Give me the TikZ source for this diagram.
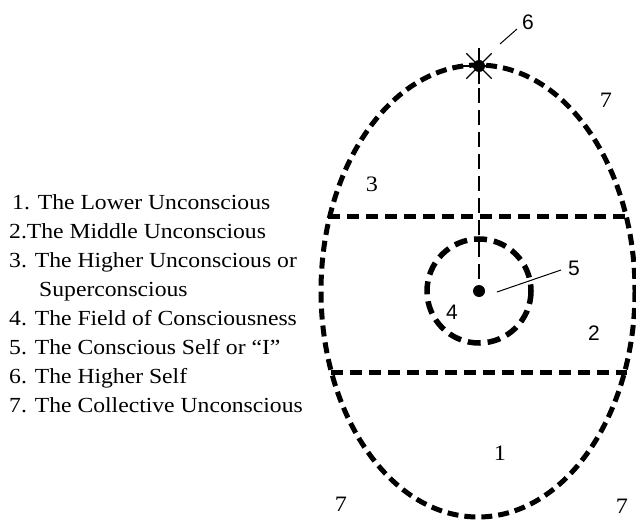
\documentclass[tikz,border=0pt]{standalone}
\usepackage{fontspec}
\setmainfont[FakeStretch=1.1]{Liberation Serif}
\newfontfamily\labsans{Liberation Sans}
\begin{document}
\begin{tikzpicture}[x=1pt,y=-1pt,
  eggline/.style={line width=5pt,dash pattern=on 11pt off 6pt},
  bandline/.style={line width=5pt,dash pattern=on 12pt off 7pt},
  fieldline/.style={line width=5.5pt,dash pattern=on 13pt off 7pt},
  thinline/.style={line width=1.3pt},
  listtext/.style={anchor=base west,inner sep=0pt,font=\fontsize{21.5}{29}\selectfont},
  numlab/.style={inner sep=0pt,font=\fontsize{22}{24}\selectfont},
  sanslab/.style={inner sep=0pt,font=\labsans\fontsize{21}{24}\selectfont}]
\useasboundingbox (0,0) rectangle (636,521);
\fill[white] (0,0) rectangle (636,521);
% egg
\draw[eggline] (478,291) ellipse [x radius=157, y radius=226];
% bands
\coordinate (b1l) at (328,216); \coordinate (b1r) at (629,216);
\coordinate (b2l) at (331,372); \coordinate (b2r) at (627,372);
\draw[bandline] (b1l) -- (b1r);
\draw[bandline] (b2l) -- (b2r);
% field of consciousness
\coordinate (self) at (479,291);
\draw[fieldline] (self) circle [radius=52];
% higher self star
\coordinate (star) at (479,66);
\foreach \a in {0,45,...,315} \draw[thinline] (star) -- ++(\a:18);
\fill (star) circle [radius=6];
\draw[thinline,dash pattern=on 15pt off 7pt] (star) -- (self);
\fill (self) circle [radius=6];
% labels
\node[numlab] (l3) at (372,184) {3};
\node[numlab] (l7a) at (606,100) {7};
\node[numlab] (l7b) at (341,504) {7};
\node[numlab] (l7c) at (622,506) {7};
\node[numlab] (l1) at (500,453) {1};
\node[sanslab] (l2) at (594,333) {2};
\node[sanslab] (l4) at (452,312) {4};
\node[sanslab] (l5) at (574,268) {5};
\node[sanslab] (l6) at (528,22) {6};
\coordinate (s5) at (497,292); \coordinate (e5) at (561,270);
\draw[line width=1pt] (s5) -- (e5);
\coordinate (s6) at (500,44); \coordinate (e6) at (517,29);
\draw[line width=1pt] (s6) -- (e6);
% legend
\node[listtext] (t1) at (12,209) {1. The Lower Unconscious};
\node[listtext] (t2) at (9,238) {2.The Middle Unconscious};
\node[listtext] (t3) at (9,267) {3. The Higher Unconscious or};
\node[listtext] (t3b) at (39,296) {Superconscious};
\node[listtext] (t4) at (9,325) {4. The Field of Consciousness};
\node[listtext] (t5) at (9,354) {5. The Conscious Self or “I”};
\node[listtext] (t6) at (9,383) {6. The Higher Self};
\node[listtext] (t7) at (9,412) {7. The Collective Unconscious};
\end{tikzpicture}
\end{document}
